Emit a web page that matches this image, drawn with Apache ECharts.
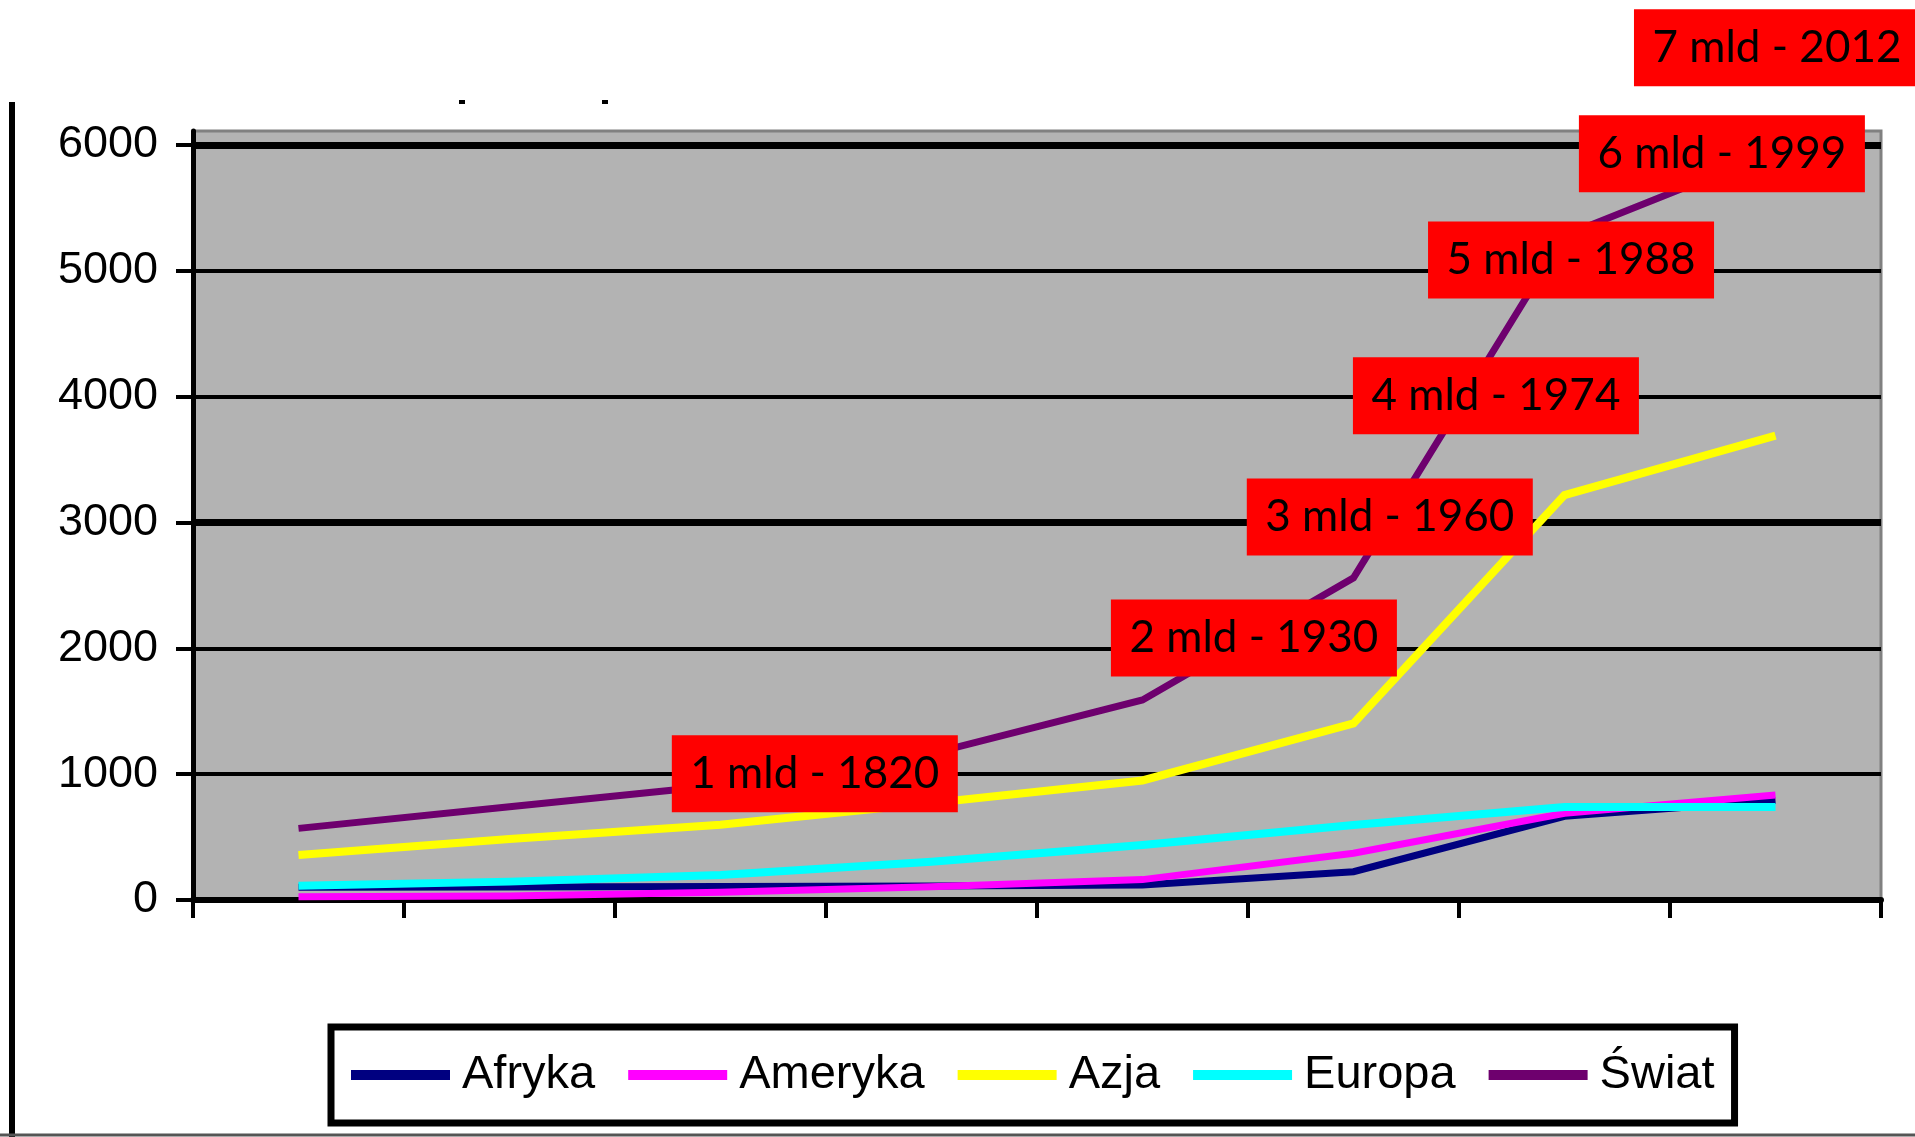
<!DOCTYPE html>
<html>
<head>
<meta charset="utf-8">
<script src="https://cdn.jsdelivr.net/npm/echarts@6/dist/echarts.min.js"></script>
<style>
html,body{margin:0;padding:0;background:#fff;}
#c{width:1915px;height:1137px;}
</style>
</head>
<body>
<div id="c"></div>
<script>
// ---- data ----
const categories = ['1', '2', '3', '4', '5', '6', '7', '8'];
const seriesNames = ['Afryka', 'Ameryka', 'Azja', 'Europa', 'Świat'];
const afryka  = [102, 104, 108, 112, 120, 225, 665, 790];
const ameryka = [26, 32, 61, 106, 162, 371, 689, 834];
const azja    = [357, 484, 598, 770, 950, 1403, 3217, 3690];
const europa  = [114, 146, 199, 304, 437, 596, 738, 738];
const swiat   = [569, 741, 912, 1163, 1589, 2560, 5280, 5950];
const yTicks  = [0, 1000, 2000, 3000, 4000, 5000, 6000];
const yMax    = 6110;
// annotations (position in category-band units, value units)
const annoText = ['1 mld - 1820', '2 mld - 1930', '3 mld - 1960', '4 mld - 1974', '5 mld - 1988', '6 mld - 1999', '7 mld - 2012'];
const annoX    = [2.947, 5.028, 5.672, 6.175, 6.531, 7.246, 7.507];
const annoY    = [1003, 2082, 3044, 4007, 5086, 5929, 6771];
const thickGridValues = [3000, 6000];

// ---- chart ----
const colors = ['#000080', '#ff00ff', '#ffff00', '#00ffff', '#6e006e'];
const values = [afryka, ameryka, azja, europa, swiat];
const widths = [7, 7, 8, 8, 7];

const chart = echarts.init(document.getElementById('c'), null, {renderer: 'canvas'});

const lineSeries = seriesNames.map((name, i) => {
  const s = {
    type: 'line',
    name: name,
    data: values[i],
    xAxisIndex: 0,
    yAxisIndex: 0,
    symbol: 'none',
    showSymbol: false,
    smooth: false,
    lineStyle: {color: colors[i], width: widths[i], cap: 'butt', join: 'miter', opacity: 1},
    itemStyle: {color: colors[i]},
    z: 2 + i * 0.01,
    silent: true
  };
  if (i === 0) {
    s.markLine = {
      silent: true,
      symbol: ['none', 'none'],
      label: {show: false},
      z: 1,
      lineStyle: {color: '#000', width: 7, type: 'solid', opacity: 1},
      data: thickGridValues.map(v => ({yAxis: v}))
    };
  }
  return s;
});

const annoSeries = {
  type: 'scatter',
  name: 'anno',
  xAxisIndex: 1,
  yAxisIndex: 0,
  data: annoX.map((x, i) => [x, annoY[i]]),
  symbolSize: 1,
  itemStyle: {color: 'rgba(0,0,0,0)', opacity: 1},
  clip: false,
  silent: true,
  z: 10,
  label: {
    show: true,
    position: 'inside',
    formatter: p => annoText[p.dataIndex],
    backgroundColor: '#ff0000',
    color: '#000',
    opacity: 1,
    fontFamily: 'Lato',
    fontSize: 44,
    width: 286,
    height: 77,
    lineHeight: 77,
    align: 'center',
    verticalAlign: 'middle',
    padding: 0
  },
  emphasis: {disabled: true}
};

const option = {
  animation: false,
  backgroundColor: '#ffffff',
  color: colors,
  grid: {
    left: 193, right: 34, top: 131, bottom: 237,
    show: true,
    backgroundColor: '#b3b3b3',
    borderColor: '#808080',
    borderWidth: 3
  },
  xAxis: [
    {
      type: 'category',
      data: categories,
      boundaryGap: true,
      axisLine: {show: true, lineStyle: {color: '#000', width: 6}},
      axisTick: {show: true, length: 18, lineStyle: {color: '#000', width: 4}},
      axisLabel: {show: false},
      splitLine: {show: false}
    },
    {
      type: 'value', min: 0, max: 8, show: false
    }
  ],
  yAxis: {
    type: 'value',
    min: 0,
    max: yMax,
    interval: 1000,
    axisLine: {show: true, onZero: false, lineStyle: {color: '#000', width: 5}},
    axisTick: {show: true, length: 17, customValues: yTicks, lineStyle: {color: '#000', width: 4}},
    axisLabel: {
      show: true, customValues: yTicks, margin: 35,
      formatter: v => String(v),
      fontFamily: 'Liberation Sans, Arial, sans-serif', fontSize: 45, color: '#000'
    },
    splitLine: {
      show: true, showMaxLine: false,
      lineStyle: {color: ['#000', '#000', '#000', '#000', '#000', '#000', '#000', '#808080'], width: 4}
    }
  },
  legend: {
    data: seriesNames,
    left: 331,
    top: 1027,
    orient: 'horizontal',
    icon: 'rect',
    itemWidth: 99,
    itemHeight: 10,
    itemGap: 33,
    padding: [21, 20, 21, 20],
    backgroundColor: '#ffffff',
    borderColor: '#000',
    borderWidth: 7,
    selectedMode: false,
    textStyle: {
      fontFamily: 'Liberation Sans, Arial, sans-serif',
      fontSize: 47,
      color: '#000',
      lineHeight: 54,
      padding: [0, 0, 0, 7]
    }
  },
  graphic: [
    {type: 'line', shape: {x1: 12, y1: 102, x2: 12, y2: 1137}, style: {stroke: '#000', lineWidth: 6}, silent: true},
    {type: 'line', shape: {x1: 0, y1: 1135, x2: 1915, y2: 1135}, style: {stroke: '#555', lineWidth: 3}, silent: true},
    {type: 'rect', shape: {x: 459, y: 100, width: 6, height: 4}, style: {fill: '#000'}, silent: true},
    {type: 'rect', shape: {x: 602, y: 100, width: 6, height: 4}, style: {fill: '#000'}, silent: true}
  ],
  series: lineSeries.concat([annoSeries])
};

chart.setOption(option);
</script>
</body>
</html>
